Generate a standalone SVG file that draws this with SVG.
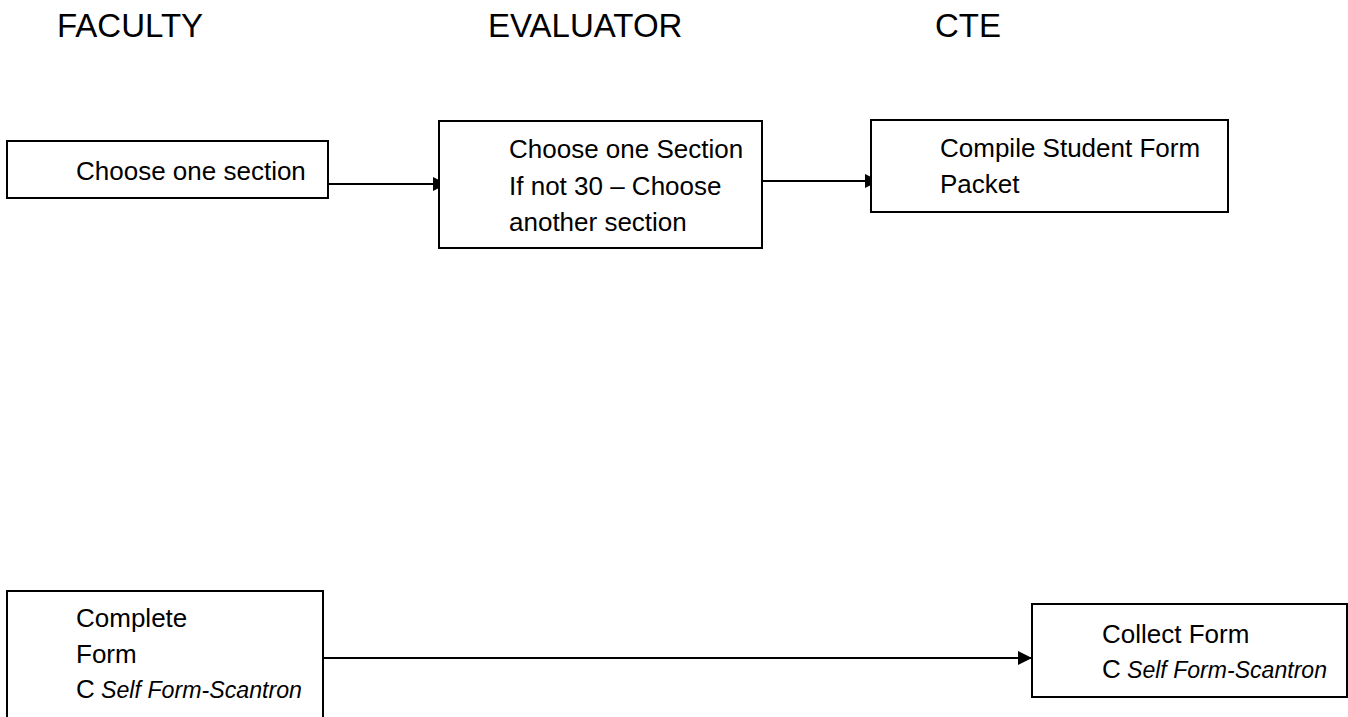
<svg xmlns="http://www.w3.org/2000/svg" width="1348" height="717" viewBox="0 0 1348 717">
<style>
.box{fill:#fff;stroke:#000;stroke-width:2}
.t{font-family:"Liberation Sans",Arial,sans-serif;font-size:26px;fill:#000}
.h{font-family:"Liberation Sans",Arial,sans-serif;font-size:33px;fill:#000}
.i{font-style:italic;font-size:24.5px}
.c{fill:none;stroke:#000;stroke-width:2}
</style>
<defs>
<marker id="ah" markerUnits="userSpaceOnUse" markerWidth="16" markerHeight="16" refX="14" refY="7" orient="auto">
<path d="M0,0 L14,7 L0,14 Z" fill="#000"/>
</marker>
</defs>
<rect width="1348" height="717" fill="#fff"/>
<g id="titles">
<text class="h" x="57" y="37">FACULTY</text>
<text class="h" x="488" y="37">EVALUATOR</text>
<text class="h" x="935" y="37">CTE</text>
</g>
<g id="connectors">
<line class="c" x1="328" y1="184" x2="447" y2="184" marker-end="url(#ah)"/>
<line class="c" x1="762" y1="181" x2="879" y2="181" marker-end="url(#ah)"/>
<line class="c" x1="323" y1="658" x2="1032" y2="658" marker-end="url(#ah)"/>
</g>
<g id="node-faculty-choose">
<rect class="box" x="7" y="141" width="321" height="57"/>
<text class="t" x="76" y="180">Choose one section</text>
</g>
<g id="node-evaluator-choose">
<rect class="box" x="439" y="121" width="323" height="127"/>
<text class="t" x="509" y="158">Choose one Section</text>
<text class="t" x="509" y="195">If not 30 – Choose</text>
<text class="t" x="509" y="231">another section</text>
</g>
<g id="node-cte-compile">
<rect class="box" x="871" y="120" width="357" height="92"/>
<text class="t" x="940" y="157">Compile Student Form</text>
<text class="t" x="940" y="193">Packet</text>
</g>
<g id="node-faculty-complete">
<rect class="box" x="7" y="591" width="316" height="140"/>
<text class="t" x="76" y="627">Complete</text>
<text class="t" x="76" y="663">Form</text>
<text class="t" x="76" y="698">C</text>
<text class="t i" x="101" y="698" textLength="201" lengthAdjust="spacingAndGlyphs">Self Form-Scantron</text>
</g>
<g id="node-cte-collect">
<rect class="box" x="1032" y="604" width="315" height="93"/>
<text class="t" x="1102" y="643">Collect Form</text>
<text class="t" x="1102" y="678">C</text>
<text class="t i" x="1127" y="678" textLength="200" lengthAdjust="spacingAndGlyphs">Self Form-Scantron</text>
</g>
</svg>
